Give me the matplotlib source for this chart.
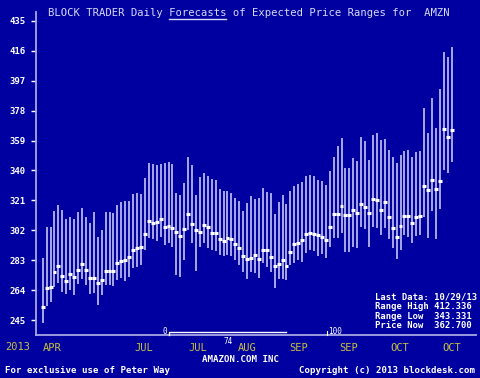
import numpy as np
import matplotlib
matplotlib.use('Agg')
import matplotlib.pyplot as plt
from matplotlib.lines import Line2D

# daily forecast ranges for AMZN (high / low / midpoint)
hi = [284.2, 303.9, 304.3, 314.2, 318.3, 314.9, 309.2, 310.6, 309.2, 313.4,
      316.1, 310.6, 306.4, 313.4, 297.9, 302.2, 313.4, 313.4, 312.8, 317.8,
      320.2, 320.4, 320.6, 324.8, 325.4, 325.0, 335.0, 344.5, 344.1, 343.4,
      343.9, 344.9, 345.5, 344.1, 325.4, 324.4, 331.8, 348.7, 343.4, 324.4,
      336.0, 338.1, 336.7, 334.5, 333.9, 328.2, 326.9, 327.1, 325.4, 322.7,
      320.6, 314.2, 319.5, 323.7, 321.8, 322.7, 329.0, 326.1, 325.4, 312.3,
      320.1, 324.4, 318.7, 326.9, 330.3, 331.2, 332.4, 336.7, 336.9, 336.5,
      333.9, 333.3, 330.7, 339.6, 348.7, 355.7, 360.8, 341.7, 341.7, 347.7,
      346.0, 361.4, 358.7, 346.6, 362.5, 364.0, 359.3, 360.0, 353.0, 348.7,
      344.9, 349.8, 352.3, 353.0, 348.3, 351.9, 352.3, 379.4, 364.0, 385.8,
      366.7, 391.5, 415.2, 412.2, 418.1]
lo = [242.9, 254.1, 256.3, 265.8, 268.7, 262.6, 261.5, 264.1, 260.9, 267.9,
      270.9, 267.3, 261.5, 262.4, 254.6, 260.9, 267.3, 267.3, 266.6, 270.4,
      271.5, 270.0, 272.5, 278.3, 278.9, 279.7, 289.5, 296.9, 296.2, 295.4,
      297.9, 292.6, 293.7, 291.6, 273.6, 272.1, 283.1, 302.2, 293.7, 276.4,
      291.6, 293.7, 290.5, 289.5, 288.8, 286.3, 285.7, 286.3, 285.7, 283.1,
      279.9, 275.7, 270.9, 275.7, 274.7, 271.9, 281.0, 278.5, 275.7, 265.6,
      271.1, 270.9, 270.4, 279.9, 281.0, 283.1, 282.1, 287.3, 289.4, 288.8,
      285.9, 286.9, 284.6, 291.6, 296.9, 296.9, 300.0, 288.4, 288.4, 291.6,
      290.5, 303.9, 302.8, 291.6, 304.3, 303.2, 299.0, 303.2, 296.2, 291.0,
      283.6, 289.7, 299.0, 298.0, 293.7, 298.4, 299.0, 310.7, 296.9, 314.5,
      296.2, 315.3, 340.3, 338.6, 345.5]
mid = [253.1, 265.1, 266.2, 275.5, 279.5, 273.0, 270.0, 274.0, 272.6, 276.6,
       280.4, 276.6, 271.5, 271.5, 268.5, 270.6, 275.9, 275.9, 275.9, 281.0,
       282.7, 283.1, 285.0, 289.7, 290.5, 291.6, 299.4, 307.7, 306.4, 307.0,
       308.9, 304.1, 305.0, 303.6, 301.1, 298.6, 303.0, 312.5, 306.0, 302.2,
       301.1, 305.6, 304.1, 300.5, 300.5, 296.5, 295.2, 297.1, 296.2, 293.5,
       290.5, 285.7, 283.8, 284.6, 286.1, 283.8, 289.3, 289.3, 285.0, 279.5,
       280.6, 283.1, 279.5, 288.2, 293.1, 293.7, 295.8, 299.6, 300.0, 299.6,
       298.8, 297.5, 295.6, 304.1, 312.5, 312.5, 317.2, 311.7, 311.7, 314.6,
       313.2, 318.5, 316.6, 313.2, 321.6, 321.2, 315.1, 319.7, 310.2, 303.2,
       297.9, 305.0, 311.1, 311.1, 306.6, 310.6, 311.1, 330.1, 327.6, 333.9,
       328.0, 333.5, 366.5, 361.0, 365.7]

yticks = [245, 264, 283, 302, 321, 340, 359, 378, 397, 416, 435]
month_pos = [2.4, 25.8, 39.4, 51.9, 65.0, 77.9, 90.9, 104.0]
month_lbl = ['APR', 'JUL', 'JUL', 'AUG', 'SEP', 'SEP', 'OCT', 'OCT']

bg = '#0000a0'
mono = 'DejaVu Sans Mono'
W, H = 480, 378

def fx(x):
    return x / W

def fy(y):
    return 1 - y / H

fig = plt.figure(figsize=(4.8, 3.78), dpi=100, facecolor=bg)
ax = fig.add_axes([fx(36), fy(335), (476 - 36) / W, (335 - 12) / H])
ax.set_facecolor(bg)

x = np.arange(len(hi))
ax.vlines(x, lo, hi, color='#c4c4f2', lw=1.2)
ax.hlines(mid, x - 0.5, x + 0.5, color='white', lw=2.2)

ax.set_xlim(-1.7, 110.2)
ax.set_ylim(235.5, 440.6)

for s in ['top', 'right']:
    ax.spines[s].set_visible(False)
for s in ['left', 'bottom']:
    ax.spines[s].set_color('#a8a8e8')
    ax.spines[s].set_linewidth(1.3)

ax.set_yticks(yticks)
ax.set_yticklabels([str(t) for t in yticks], fontsize=6.5, fontweight='bold',
                   family=mono, color='white')
ax.tick_params(axis='y', length=3.5, width=1, color='white', pad=4)

ax.set_xticks(month_pos)
ax.set_xticklabels(month_lbl, fontsize=7.5, family=mono, color='#c8c040')
ax.tick_params(axis='x', length=0, pad=6)

# title with underlined word
title = 'BLOCK TRADER Daily Forecasts of Expected Price Ranges for  AMZN'
t = fig.text(fx(47.5), fy(13), title, fontsize=7.6, family=mono,
             color='#d8d8f8', va='center', ha='left')
fig.canvas.draw()
bb = t.get_window_extent()
cw = bb.width / len(title)
u0 = bb.x0 + 19 * cw
u1 = bb.x0 + 28 * cw
fig.add_artist(Line2D([u0 / W, u1 / W], [fy(19.3), fy(19.3)],
                      transform=fig.transFigure, color='#d8d8f8', lw=1.0))

# bottom labels
fig.text(fx(5), fy(346.5), '2013', fontsize=7.5, family=mono, color='#c8c040',
         va='center', ha='left')
fig.text(fx(228.5), fy(341), '74', fontsize=5.5, family=mono, color='white',
         va='center', ha='center')
fig.text(fx(240), fy(360), 'AMAZON.COM INC', fontsize=6.6, family=mono,
         fontweight='bold', color='white', va='center', ha='center')
fig.text(fx(5), fy(370.5), 'For exclusive use of Peter Way', fontsize=6.6,
         family=mono, fontweight='bold', color='white', va='center', ha='left')
fig.text(fx(475), fy(370.5), 'Copyright (c) 2013 blockdesk.com', fontsize=6.6,
         family=mono, fontweight='bold', color='white', va='center', ha='right')

# little slider widget along the bottom
fig.text(fx(164.5), fy(332), '0', fontsize=5.5, family=mono, color='white',
         va='center', ha='center')
fig.add_artist(Line2D([fx(169), fx(169), fx(286)], [fy(335), fy(331.7), fy(331.7)],
                      transform=fig.transFigure, color='white', lw=1.0))
fig.add_artist(Line2D([fx(327), fx(327)], [fy(335), fy(331)],
                      transform=fig.transFigure, color='white', lw=0.8))
fig.text(fx(335), fy(332), '100', fontsize=5.5, family=mono, color='white',
         va='center', ha='center')

# summary box
info = ['Last Data: 10/29/13', 'Range High 412.336',
        'Range Low  343.331', 'Price Now  362.700']
for k, s in enumerate(info):
    fig.text(fx(477), fy(297 + k * 9.6), s.ljust(19), fontsize=6.4, family=mono,
             fontweight='bold', color='white', va='center', ha='right')

fig.savefig('out.png', dpi=100, facecolor=bg)
